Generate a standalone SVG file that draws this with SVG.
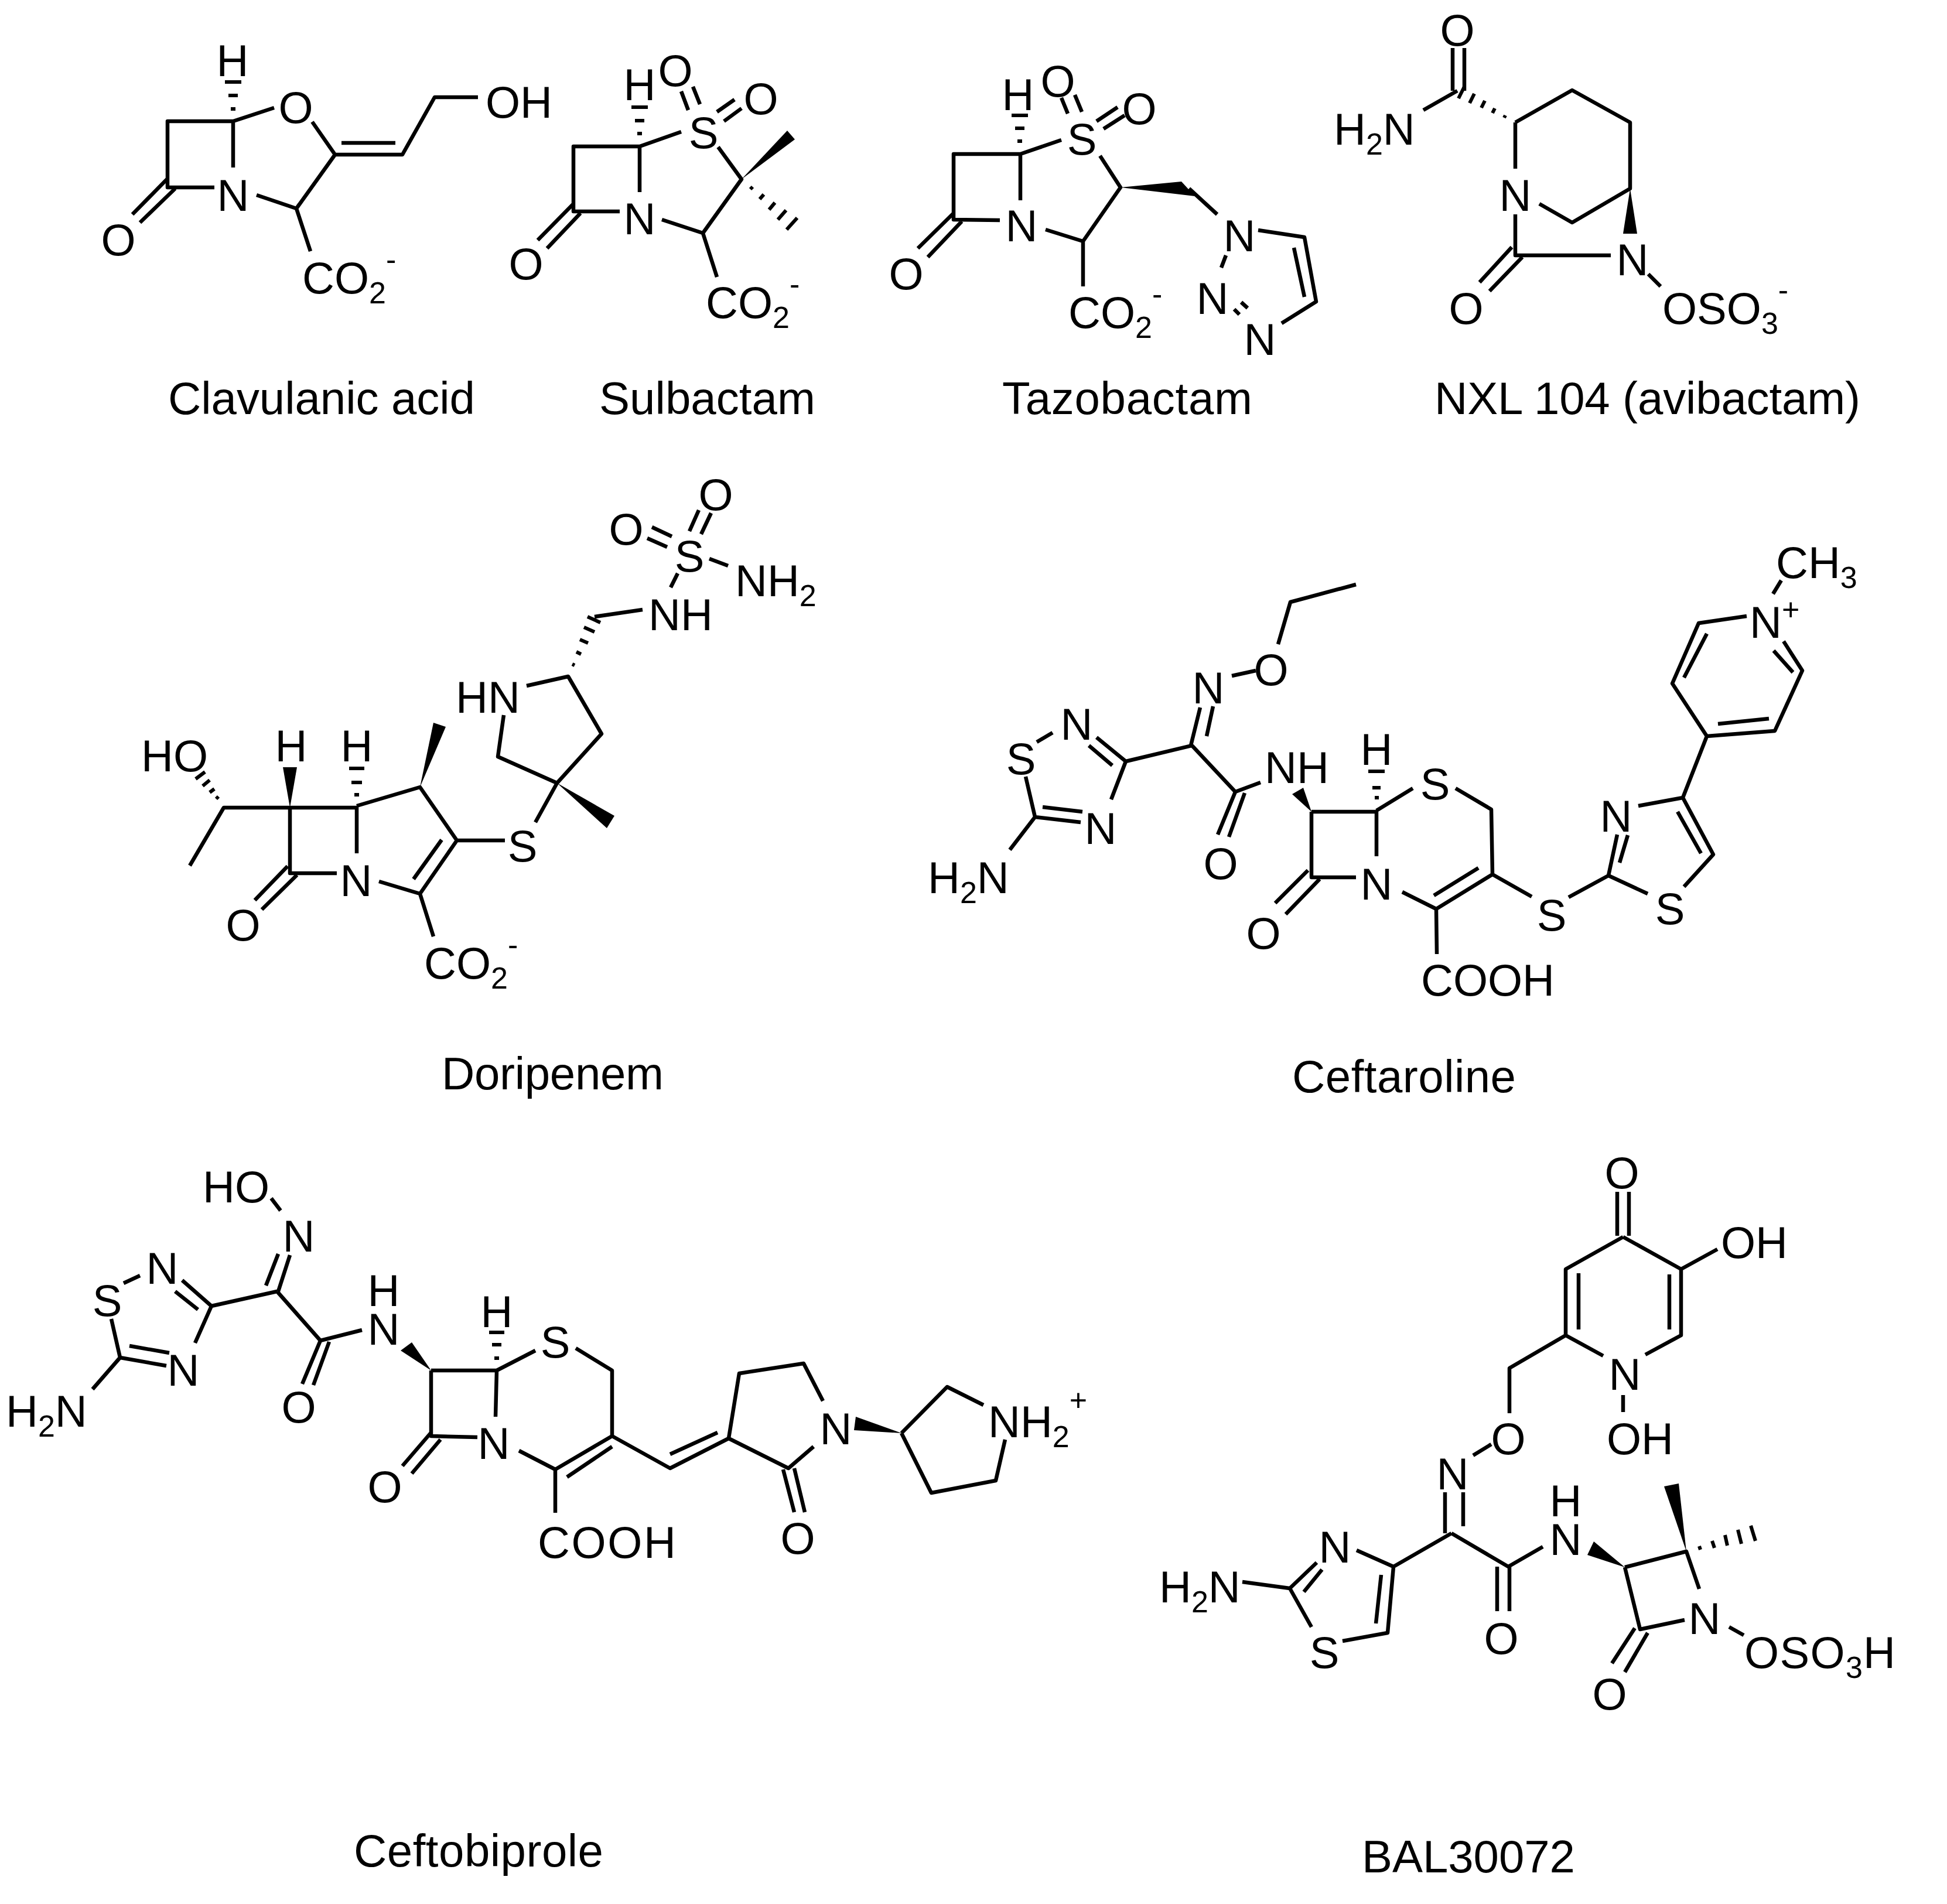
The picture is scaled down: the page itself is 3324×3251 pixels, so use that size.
<svg xmlns="http://www.w3.org/2000/svg" width="3324" height="3251" viewBox="0 0 3324 3251">
<style>
.b{fill:none;stroke:#000;stroke-width:6.5;stroke-linecap:butt;stroke-linejoin:round}
.h{fill:none;stroke:#000;stroke-width:6}
.w{fill:#000;stroke:none}
text{font-family:"Liberation Sans",Arial,sans-serif;fill:#000}
.a{font-size:76px}
.m{font-size:76px;text-anchor:middle}
.c{font-size:78px}
.s{font-size:52px}
</style>
<rect width="3324" height="3251" fill="#fff"/>

<g id="clavulanic-acid">
<path class="b" d="M398 207H286V320H366M398 207V286M438 333L506 356L572 264L533 208M398 207L468 184M572 264H687L742 166H816M583 244H675M286 305L226 366M299 322L239 380M506 356L530 429"/>
<path class="h" d="M384 140H412M390 163H406M394 186H402"/>
<text class="m" x="397" y="130">H</text><text class="m" x="505" y="210">O</text><text class="m" x="398" y="360">N</text>
<text class="a" x="829" y="201">OH</text><text class="m" x="202" y="436">O</text>
<text class="a" x="516" y="501">CO<tspan class="s" dy="17">2</tspan><tspan class="s" dy="-57">-</tspan></text>
<text class="c" x="287" y="707" textLength="524">Clavulanic acid</text>
</g>

<g id="sulbactam">
<path class="b" d="M1092 250H979V361H1058M1092 250V328M1130 375L1200 398L1266 306L1226 251M1092 250L1163 225M1163 156L1175 188M1183 148L1195 178M1224 191L1254 170M1236 207L1266 185M979 348L918 410M991 364L934 424M1200 398L1224 473"/>
<polygon class="w" points="1266,306 1344,223 1357,238"/>
<path class="h" d="M1078 183H1106M1084 206H1100M1088 228H1096M1281 323L1285 319M1297 340L1304 332M1313 358L1323 346M1328 375L1342 359M1343 392L1361 372"/>
<text class="m" x="1092" y="171">H</text><text class="m" x="1153" y="147">O</text><text class="m" x="1299" y="195">O</text><text class="m" x="1201" y="253">S</text><text class="m" x="1092" y="400">N</text><text class="m" x="898" y="477">O</text>
<text class="a" x="1205" y="543">CO<tspan class="s" dy="17">2</tspan><tspan class="s" dy="-57">-</tspan></text>
<text class="c" x="1023" y="707" textLength="369">Sulbactam</text>
</g>

<g id="tazobactam">
<path class="b" d="M1742 263H1628V375L1707 376M1742 263V342M1785 392L1849 412L1913 320L1878 266M1742 263L1812 239M1812 167L1823 194M1835 162L1847 191M1872 207L1908 183M1884 220L1920 197M1628 364L1567 424M1642 378L1584 439M1849 412V489M2030 322L2078 366M2148 393L2227 405L2247 515L2188 552M2209 423L2227 507M2093 436L2085 457M2119 516L2130 526M2107 528L2116 537"/>
<polygon class="w" points="1913,320 2017,310 2040,335"/>
<path class="h" d="M1727 197H1755M1733 219H1749M1737 241H1745"/>
<text class="m" x="1738" y="188">H</text><text class="m" x="1806" y="165">O</text><text class="m" x="1945" y="212">O</text><text class="m" x="1847" y="264">S</text><text class="m" x="1744" y="412">N</text><text class="m" x="1547" y="494">O</text><text class="m" x="2116" y="429">N</text><text class="m" x="2070" y="536">N</text><text class="m" x="2151" y="606">N</text>
<text class="a" x="1824" y="560">CO<tspan class="s" dy="17">2</tspan><tspan class="s" dy="-57">-</tspan></text>
<text class="c" x="1711" y="707" textLength="427">Tazobactam</text>
</g>

<g id="avibactam">
<path class="b" d="M2480 82V155M2500 82V155M2488 155L2430 188M2587 209L2684 154L2783 209V322L2684 380L2628 348M2587 209V288M2587 366V436H2750M2814 468L2835 489M2581 422L2526 482M2599 439L2543 497"/>
<polygon class="w" points="2783,322 2771,399 2795,399"/>
<path class="h" d="M2568 201L2570 197M2548 193L2552 185M2529 184L2535 172M2509 176L2517 160M2490 168L2500 148"/>
<text class="m" x="2488" y="78">O</text><text class="a" x="2277" y="247">H<tspan class="s" dy="17">2</tspan><tspan dy="-17">N</tspan></text><text class="m" x="2587" y="360">N</text><text class="m" x="2787" y="470">N</text><text class="m" x="2503" y="553">O</text>
<text class="a" x="2838" y="553">OSO<tspan class="s" dy="17">3</tspan><tspan class="s" dy="-57">-</tspan></text>
<text class="c" x="2449" y="707" textLength="727">NXL 104 (avibactam)</text>
</g>

<g id="doripenem">
<path class="b" d="M324 1478L382 1379H495V1491H575M495 1379H609V1457M609 1376L717 1344L780 1435L717 1526L647 1505M754 1434L706 1501M780 1435H862M717 1526L740 1599M491 1479L435 1537M507 1494L447 1553M914 1404L951 1337L850 1292L860 1221M899 1171L970 1155L1027 1253L951 1337M1015 1053L1097 1041M1145 1003L1157 979M1211 954L1243 966M1113 900L1147 916M1105 919L1139 934M1193 871L1177 907M1214 876L1197 912"/>
<polygon class="w" points="717,1344 740,1234 761,1241"/>
<polygon class="w" points="495,1379 483,1310 507,1310"/>
<polygon class="w" points="951,1337 1049,1393 1036,1414"/>
<path class="h" d="M596 1312H622M600 1336H618M605 1357H613M369 1364L373 1360M358 1353L366 1347M346 1342L358 1332M334 1330L350 1318M977 1134L981 1136M984 1113L992 1117M990 1092L1004 1098M997 1071L1015 1079M1003 1053L1025 1063"/>
<text class="m" x="497" y="1300">H</text><text class="m" x="609" y="1300">H</text><text class="a" x="241" y="1317">HO</text><text class="m" x="608" y="1530">N</text><text class="m" x="892" y="1471">S</text><text class="m" x="415" y="1606">O</text>
<text class="a" x="724" y="1671">CO<tspan class="s" dy="17">2</tspan><tspan class="s" dy="-57">-</tspan></text>
<text class="a" x="778" y="1217">HN</text><text class="a" x="1107" y="1076">NH</text><text class="m" x="1177" y="976">S</text>
<text class="a" x="1255" y="1018">NH<tspan class="s" dy="17">2</tspan></text><text class="m" x="1069" y="930">O</text><text class="m" x="1222" y="871">O</text>
<text class="c" x="754" y="1860" textLength="379">Doripenem</text>
</g>

<g id="ceftaroline">
<path class="b" d="M2315 998L2203 1028L2182 1100M2144 1145L2103 1154M2033 1273L2049 1208M2060 1257L2071 1206M2035 1273L1922 1300M1770 1267L1797 1251M1872 1259L1922 1300L1897 1365M1859 1273L1899 1307M1751 1326L1767 1395L1845 1404M1780 1378L1848 1386M1767 1395L1724 1451M2035 1273L2109 1352L2152 1336M2109 1352L2079 1425M2125 1354L2098 1429M2239 1386H2350V1462M2239 1386V1498H2315M2350 1384L2412 1346M2485 1346L2546 1382L2548 1493L2452 1552L2394 1523M2524 1482L2448 1529M2452 1552L2453 1629M2233 1486L2177 1542M2253 1501L2195 1561M2548 1493L2615 1531M2678 1532L2746 1495L2761 1425M2765 1473L2779 1426M2746 1495L2813 1526M2797 1376L2873 1362L2925 1459L2875 1514M2864 1386L2904 1457M2873 1362L2914 1257L3030 1248L3077 1145L3045 1095M2933 1236L3020 1227M3028 1111L3061 1148M2982 1052L2900 1064L2855 1167L2914 1257M2914 1082L2875 1157M3027 1014L3041 991"/>
<polygon class="w" points="2239,1386 2206,1356 2225,1345"/>
<path class="h" d="M2336 1317H2364M2343 1345H2357M2347 1362H2354"/>
<text class="m" x="2170" y="1170">O</text><text class="m" x="2063" y="1201">N</text><text class="m" x="1838" y="1263">N</text><text class="m" x="1743" y="1322">S</text><text class="m" x="1879" y="1441">N</text>
<text class="a" x="1584" y="1525">H<tspan class="s" dy="17">2</tspan><tspan dy="-17">N</tspan></text><text class="a" x="2159" y="1337">NH</text><text class="m" x="2084" y="1501">O</text><text class="m" x="2350" y="1306">H</text><text class="m" x="2450" y="1365">S</text><text class="m" x="2350" y="1536">N</text><text class="a" x="2426" y="1700">COOH</text><text class="m" x="2157" y="1620">O</text><text class="m" x="2649" y="1589">S</text><text class="m" x="2759" y="1420">N</text><text class="m" x="2851" y="1578">S</text>
<text class="a" x="2987" y="1089">N<tspan class="s" dy="-30">+</tspan></text>
<text class="a" x="3032" y="987">CH<tspan class="s" dy="17">3</tspan></text>
<text class="c" x="2206" y="1865" textLength="382">Ceftaroline</text>
</g>

<g id="ceftobiprole">
<path class="b" d="M463 2046L479 2067M454 2195L475 2141M475 2205L495 2143M473 2205L361 2230L333 2293M211 2191L239 2178M311 2186L361 2230M299 2205L338 2236M190 2252L205 2318L284 2332M221 2298L289 2310M205 2318L158 2372M473 2205L547 2289L618 2271M547 2289L516 2363M562 2291L535 2365M736 2340H848L846 2419M736 2340V2452L815 2454M848 2340L914 2306M983 2302L1045 2340V2452L948 2509L886 2477M1045 2470L968 2522M948 2509V2583M687 2503L736 2446M703 2516L752 2458M1045 2452L1144 2507L1244 2456L1262 2345L1372 2328L1405 2392M1144 2483L1225 2446M1389 2470L1346 2507L1244 2456M1337 2509L1356 2582M1356 2507L1374 2582M1539 2447L1617 2368L1679 2399M1716 2458L1700 2528L1590 2549L1539 2447"/>
<polygon class="w" points="736,2340 684,2306 703,2292"/>
<polygon class="w" points="1539,2447 1461,2419 1458,2442"/>
<path class="h" d="M835 2275H861M840 2296H856M844 2319H852"/>
<text class="a" x="346" y="2053">HO</text><text class="m" x="510" y="2137">N</text><text class="m" x="277" y="2192">N</text><text class="m" x="183" y="2247">S</text><text class="m" x="313" y="2366">N</text>
<text class="a" x="10" y="2436">H<tspan class="s" dy="17">2</tspan><tspan dy="-17">N</tspan></text><text class="m" x="655" y="2230">H</text><text class="m" x="655" y="2296">N</text><text class="m" x="510" y="2429">O</text><text class="m" x="848" y="2266">H</text><text class="m" x="948" y="2318">S</text><text class="m" x="843" y="2491">N</text><text class="m" x="657" y="2565">O</text><text class="a" x="918" y="2660" textLength="236">COOH</text><text class="m" x="1427" y="2466">N</text><text class="m" x="1362" y="2653">O</text>
<text class="a" x="1687" y="2454">NH<tspan class="s" dy="17">2</tspan><tspan class="s" dy="-62" font-size="62">+</tspan></text>
<text class="c" x="604" y="3187" textLength="426">Ceftobiprole</text>
</g>

<g id="bal30072">
<path class="b" d="M2761 2035V2110M2781 2035V2110M2771 2112L2673 2167V2280L2737 2315M2695 2174V2270M2809 2313L2870 2280V2167L2771 2112M2850 2270V2176M2870 2167L2932 2133M2771 2382V2411M2673 2280L2577 2336V2413M2546 2466L2515 2485M2467 2548V2618M2498 2548V2606M2478 2618L2379 2675M2316 2647L2379 2675L2369 2788L2292 2802M2358 2689L2349 2772M2239 2778L2202 2712L2248 2668M2226 2718L2257 2680M2121 2701L2202 2712M2478 2618L2575 2675L2634 2641M2556 2675V2751M2577 2675V2751M2774 2676L2879 2649L2901 2713M2876 2766L2800 2782L2774 2676M2791 2780L2752 2840M2813 2788L2774 2855M2952 2778L2977 2792"/>
<polygon class="w" points="2774,2676 2721,2632 2710,2655"/>
<polygon class="w" points="2879,2649 2841,2538 2866,2533"/>
<path class="h" d="M2901 2640L2903 2646M2923 2631L2927 2643M2945 2621L2949 2639M2967 2612L2973 2636M2989 2605L2997 2631"/>
<text class="m" x="2769" y="2029">O</text><text class="a" x="2938" y="2148">OH</text><text class="m" x="2774" y="2373">N</text><text class="a" x="2743" y="2483">OH</text><text class="m" x="2575" y="2483">O</text><text class="m" x="2480" y="2543">N</text><text class="m" x="2279" y="2668">N</text><text class="m" x="2261" y="2848">S</text>
<text class="a" x="1979" y="2736">H<tspan class="s" dy="17">2</tspan><tspan dy="-17">N</tspan></text><text class="m" x="2563" y="2824">O</text><text class="m" x="2673" y="2589">H</text><text class="m" x="2673" y="2655">N</text><text class="m" x="2910" y="2790">N</text><text class="m" x="2748" y="2919">O</text>
<text class="a" x="2978" y="2848" textLength="258">OSO<tspan class="s" dy="17">3</tspan><tspan dy="-17">H</tspan></text>
<text class="c" x="2325" y="3197" textLength="364">BAL30072</text>
</g>
</svg>
